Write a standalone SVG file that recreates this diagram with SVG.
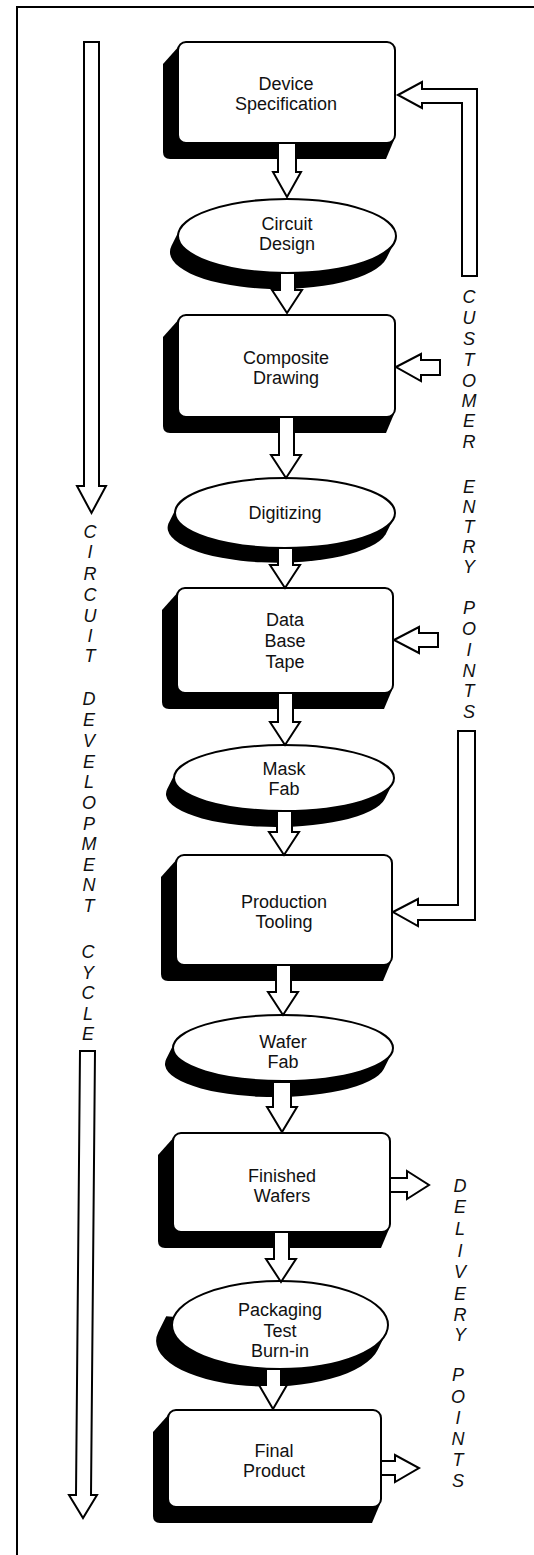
<svg xmlns="http://www.w3.org/2000/svg" width="534" height="1555" viewBox="0 0 534 1555">
<style>
.frame{fill:none;stroke:#000;stroke-width:2}
.box{fill:#fff;stroke:#000;stroke-width:2}
.sh{fill:#000;stroke:none}
.ar{fill:#fff;stroke:#000;stroke-width:2;stroke-linejoin:miter}
.t{font-family:"Liberation Sans",Arial,sans-serif;font-size:18px;fill:#111;text-anchor:middle}
.v{font-family:"Liberation Sans",Arial,sans-serif;font-size:18px;font-style:italic;fill:#111;text-anchor:middle}
</style>
<rect width="534" height="1555" fill="#fff"/>
<path class="frame" d="M17,1555 L17,7 L534,7"/>

<g id="n-device">
<path class="sh" d="M180,45 L163,64 L163,152 Q163,159 170,159 L386,159 L394,140 Z"/>
<rect class="box" x="178" y="42" width="217" height="101" rx="8"/>
<text class="t" x="286" y="90">Device</text>
<text class="t" x="286" y="110">Specification</text>
</g>

<g id="n-circuit">
<path class="sh" d="M394.5,242.2 L386.5,258.2 A109,37 0 0 1 171.5,245.8 L179.5,229.8 Z"/>
<ellipse class="box" cx="287" cy="236" rx="109" ry="37"/>
<text class="t" x="287" y="230">Circuit</text>
<text class="t" x="287" y="250">Design</text>
</g>

<g id="n-composite">
<path class="sh" d="M180,318 L163,337 L163,426 Q163,433 170,433 L386,433 L394,414 Z"/>
<rect class="box" x="178" y="315" width="217" height="102" rx="8"/>
<text class="t" x="286" y="364">Composite</text>
<text class="t" x="286" y="384">Drawing</text>
</g>

<g id="n-digitizing">
<path class="sh" d="M393.7,518.2 L385.7,534.2 A110,35 0 0 1 168.3,523.8 L176.3,507.8 Z"/>
<ellipse class="box" cx="285" cy="513" rx="110" ry="35"/>
<text class="t" x="285" y="519">Digitizing</text>
</g>

<g id="n-database">
<path class="sh" d="M179,591 L162,610 L162,702 Q162,709 169,709 L384,709 L392,690 Z"/>
<rect class="box" x="177" y="588" width="216" height="105" rx="8"/>
<text class="t" x="285" y="626">Data</text>
<text class="t" x="285" y="647">Base</text>
<text class="t" x="285" y="668">Tape</text>
</g>

<g id="n-maskfab">
<path class="sh" d="M392.8,782.9 L384.8,798.9 A110,33 0 0 1 167.2,789.1 L175.2,773.1 Z"/>
<ellipse class="box" cx="284" cy="778" rx="110" ry="33"/>
<text class="t" x="284" y="775">Mask</text>
<text class="t" x="284" y="795">Fab</text>
</g>

<g id="n-production">
<path class="sh" d="M178,858 L161,877 L161,974 Q161,981 168,981 L383,981 L391,962 Z"/>
<rect class="box" x="176" y="855" width="216" height="110" rx="8"/>
<text class="t" x="284" y="908">Production</text>
<text class="t" x="284" y="928">Tooling</text>
</g>

<g id="n-waferfab">
<path class="sh" d="M391.8,1052.9 L383.8,1068.9 A110,33 0 0 1 166.2,1059.1 L174.2,1043.1 Z"/>
<ellipse class="box" cx="283" cy="1048" rx="110" ry="33"/>
<text class="t" x="283" y="1048">Wafer</text>
<text class="t" x="283" y="1068">Fab</text>
</g>

<g id="n-finished">
<path class="sh" d="M175,1136 L158,1155 L158,1241 Q158,1248 165,1248 L381,1248 L389,1229 Z"/>
<rect class="box" x="173" y="1133" width="217" height="99" rx="8"/>
<text class="t" x="282" y="1182">Finished</text>
<text class="t" x="282" y="1202">Wafers</text>
</g>

<g id="n-packaging">
<path class="sh" d="M385.8,1333.8 L377.8,1349.8 A108,44 0 0 1 158.2,1332.2 L166.2,1316.2 Z"/>
<ellipse class="box" cx="280" cy="1325" rx="108" ry="44"/>
<text class="t" x="280" y="1316">Packaging</text>
<text class="t" x="280" y="1337">Test</text>
<text class="t" x="280" y="1357">Burn-in</text>
</g>

<g id="n-final">
<path class="sh" d="M170,1413 L153,1432 L153,1516 Q153,1523 160,1523 L372,1523 L380,1504 Z"/>
<rect class="box" x="168" y="1410" width="213" height="97" rx="8"/>
<text class="t" x="274" y="1457">Final</text>
<text class="t" x="274" y="1477">Product</text>
</g>

<g id="connectors">
<polygon class="ar" points="278,143 296,143 296,172 301,172 287,197 273,172 278,172"/>
<polygon class="ar" points="280,273 295,273 295,290 302,290 287,313 272,290 280,290"/>
<polygon class="ar" points="279,417 294,417 294,455 301,455 286,478 271,455 279,455"/>
<polygon class="ar" points="278,548 293,548 293,565 300,565 285,588 270,565 278,565"/>
<polygon class="ar" points="278,693 293,693 293,722 300,722 285,745 270,722 278,722"/>
<polygon class="ar" points="277,811 292,811 292,832 299,832 284,855 269,832 277,832"/>
<polygon class="ar" points="276,965 291,965 291,992 298,992 283,1015 268,992 276,992"/>
<polygon class="ar" points="273,1082 291,1082 291,1107 297,1107 282,1132 267,1107 273,1107"/>
<polygon class="ar" points="274,1232 289,1232 289,1259 296,1259 281,1282 266,1259 274,1259"/>
<polygon class="ar" points="266,1369 281,1369 281,1385 287,1385 273,1409 259,1385 266,1385"/>

<polygon class="ar" points="84,42 99,42 99,486 106,486 91.5,513 77,486 84,486"/>
<polygon class="ar" points="80,1051 95,1051 91,1495 97,1495 83,1518 69,1495 76,1495"/>

<polygon class="ar" points="398,95 422,82 422,89 477,89 477,276 462,276 462,103 422,103 422,108"/>
<polygon class="ar" points="396,367 421,354 421,360 440,360 440,375 421,375 421,381"/>
<polygon class="ar" points="394,640 419,627 419,633 438,633 438,647 419,647 419,653"/>
<polygon class="ar" points="393,912 418,899 418,905 458,905 458,731 475,731 475,920 418,920 418,926"/>

<polygon class="ar" points="390,1178 407,1178 407,1171 429,1185 407,1199 407,1192 390,1192"/>
<polygon class="ar" points="381,1461 395,1461 395,1455 419,1468 395,1482 395,1475 381,1475"/>
</g>

<g id="label-circuit-development-cycle">
<text class="v"><tspan x="90" y="538">C</tspan><tspan x="90" y="558">I</tspan><tspan x="90" y="580">R</tspan><tspan x="90" y="601">C</tspan><tspan x="90" y="622">U</tspan><tspan x="90" y="642">I</tspan><tspan x="90" y="662">T</tspan></text>
<text class="v"><tspan x="89" y="705">D</tspan><tspan x="89" y="726">E</tspan><tspan x="89" y="747">V</tspan><tspan x="89" y="768">E</tspan><tspan x="89" y="788">L</tspan><tspan x="89" y="809">O</tspan><tspan x="89" y="830">P</tspan><tspan x="89" y="850">M</tspan><tspan x="89" y="871">E</tspan><tspan x="89" y="891">N</tspan><tspan x="89" y="912">T</tspan></text>
<text class="v"><tspan x="88" y="958">C</tspan><tspan x="88" y="979">Y</tspan><tspan x="88" y="999">C</tspan><tspan x="88" y="1020">L</tspan><tspan x="88" y="1040">E</tspan></text>
</g>

<g id="label-customer-entry-points">
<text class="v"><tspan x="469" y="303">C</tspan><tspan x="469" y="324">U</tspan><tspan x="469" y="345">S</tspan><tspan x="469" y="366">T</tspan><tspan x="469" y="387">O</tspan><tspan x="469" y="407">M</tspan><tspan x="469" y="427">E</tspan><tspan x="469" y="448">R</tspan></text>
<text class="v"><tspan x="469" y="493">E</tspan><tspan x="469" y="513">N</tspan><tspan x="469" y="533">T</tspan><tspan x="469" y="553">R</tspan><tspan x="469" y="573">Y</tspan></text>
<text class="v"><tspan x="469" y="614">P</tspan><tspan x="469" y="635">O</tspan><tspan x="469" y="656">I</tspan><tspan x="469" y="677">N</tspan><tspan x="469" y="697">T</tspan><tspan x="469" y="718">S</tspan></text>
</g>

<g id="label-delivery-points">
<text class="v"><tspan x="460" y="1192">D</tspan><tspan x="460" y="1213">E</tspan><tspan x="460" y="1235">L</tspan><tspan x="460" y="1257">I</tspan><tspan x="460" y="1278">V</tspan><tspan x="460" y="1300">E</tspan><tspan x="460" y="1321">R</tspan><tspan x="460" y="1341">Y</tspan></text>
<text class="v"><tspan x="458" y="1381">P</tspan><tspan x="458" y="1403">O</tspan><tspan x="458" y="1424">I</tspan><tspan x="458" y="1445">N</tspan><tspan x="458" y="1466">T</tspan><tspan x="458" y="1487">S</tspan></text>
</g>
</svg>
